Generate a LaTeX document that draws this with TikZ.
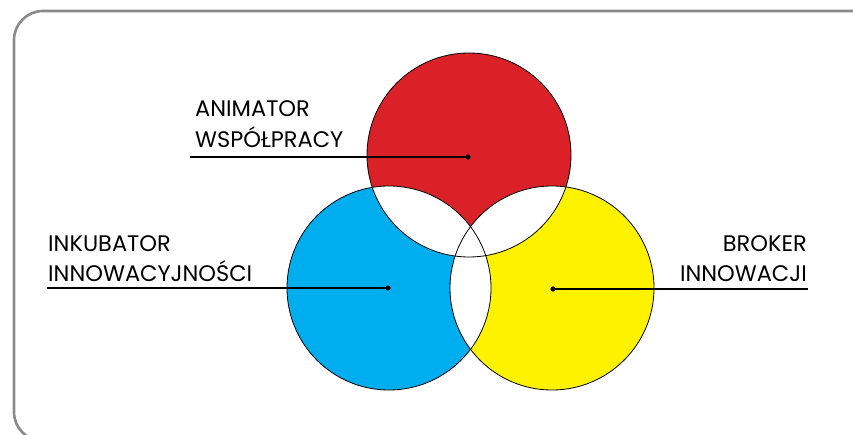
\documentclass[tikz,border=0pt]{standalone}
\usepackage{fontspec}
\setmainfont{Poppins}
\definecolor{cred}{HTML}{DA2128}
\definecolor{cblue}{HTML}{00AEEF}
\definecolor{cyellow}{HTML}{FFF200}
\definecolor{cframe}{HTML}{8A8A8C}
\tikzset{
  lbl/.style={inner sep=0pt, font=\fontsize{22.5}{22.5}\selectfont},
  leader/.style={draw=black, line width=1.2pt},
  ring/.style={draw=black, line width=0.8pt},
}
\begin{document}
\begin{tikzpicture}[x=1pt,y=-1pt]
\useasboundingbox (0,0) rectangle (853,435);
\clip (0,0) rectangle (853,435);
% frame
\draw[cframe, line width=2.6pt, rounded corners=29pt] (880,11) -- (14,11) -- (14,441) -- (880,441);
% centres
\coordinate (cr) at (469,155);
\coordinate (cb) at (389,288);
\coordinate (cy) at (552,288);
\def\R{102}
\fill[cred] (cr) circle[radius=\R];
\fill[cblue] (cb) circle[radius=\R];
\fill[cyellow] (cy) circle[radius=\R];
\begin{scope}\clip (cr) circle[radius=\R]; \fill[white] (cb) circle[radius=\R]; \fill[white] (cy) circle[radius=\R];\end{scope}
\begin{scope}\clip (cb) circle[radius=\R]; \fill[white] (cy) circle[radius=\R];\end{scope}
\draw[ring] (cr) circle[radius=\R];
\draw[ring] (cb) circle[radius=\R];
\draw[ring] (cy) circle[radius=\R];
% leaders
\coordinate (er) at (190,157);
\coordinate (dr) at (468,157);
\coordinate (eb) at (47,288);
\coordinate (db) at (388,288);
\coordinate (ey) at (808,289);
\coordinate (dy) at (553,289);
\draw[leader] (er) -- (dr);
\draw[leader] (eb) -- (db);
\draw[leader] (ey) -- (dy);
\fill (dr) circle[radius=2.6];
\fill (db) circle[radius=2.6];
\fill (dy) circle[radius=2.6];
% labels
\node[lbl, anchor=base west] (t1) at (195,117) {ANIMATOR};
\node[lbl, anchor=base west] (t2) at (195,148) {WSPÓŁPRACY};
\node[lbl, anchor=base west] (t3) at (48,252) {INKUBATOR};
\node[lbl, anchor=base west] (t4) at (48,282) {INNOWACYJNOŚCI};
\node[lbl, anchor=base east] (t5) at (807,252) {BROKER};
\node[lbl, anchor=base east] (t6) at (807,282) {INNOWACJI};
\end{tikzpicture}
\end{document}
